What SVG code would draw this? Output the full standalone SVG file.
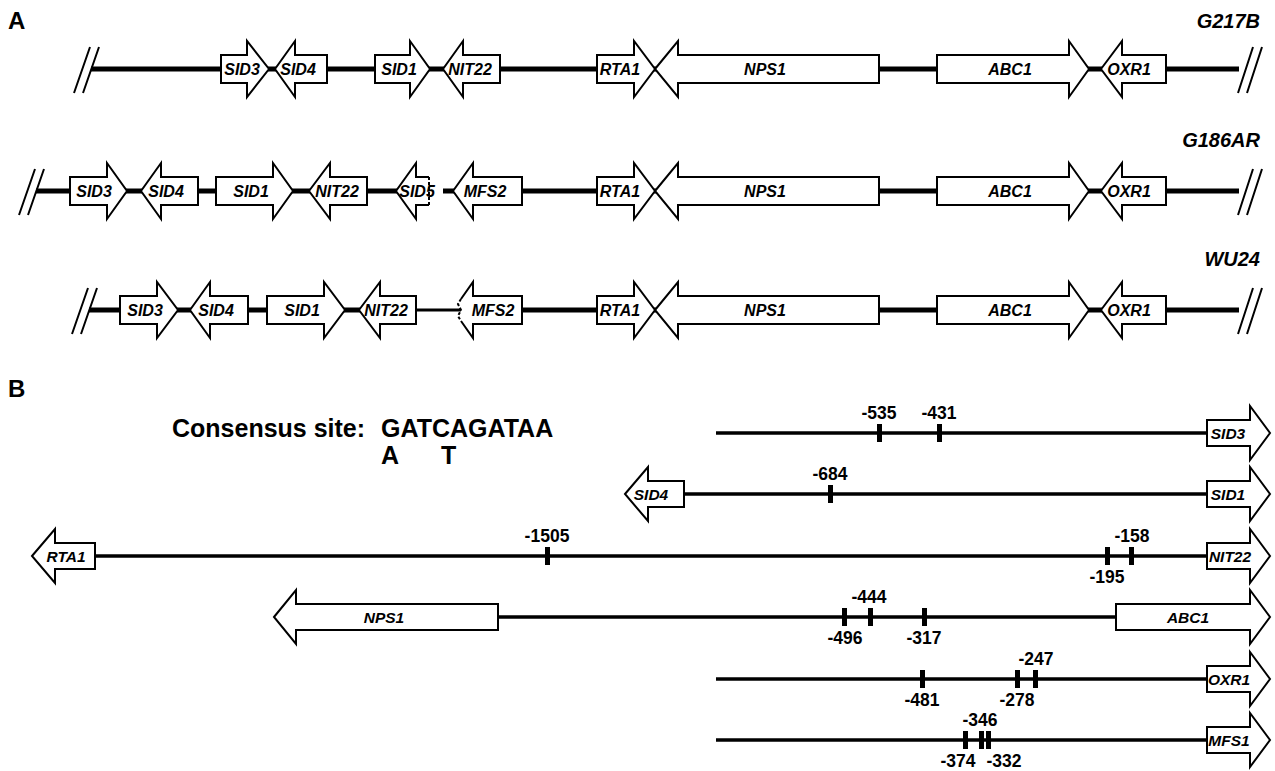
<svg xmlns="http://www.w3.org/2000/svg" width="1275" height="771" viewBox="0 0 1275 771">
<style>
.gene{fill:#fff;stroke:#000;stroke-width:2;stroke-linejoin:miter}
.ga{font-family:"Liberation Sans",Arial,sans-serif;font-weight:bold;font-style:italic;font-size:16px;text-anchor:middle}
.gb{font-family:"Liberation Sans",Arial,sans-serif;font-weight:bold;font-style:italic;font-size:15.5px;text-anchor:middle}
.bb{stroke:#000;stroke-width:5;fill:none}
.bt{stroke:#000;stroke-width:3;fill:none}
.bl{stroke:#000;stroke-width:3.5;fill:none}
.br{stroke:#000;stroke-width:2;fill:none}
.dash{stroke:#000;stroke-width:2;fill:none;stroke-dasharray:3,2}
.tick{fill:#000}
.num{font-family:"Liberation Sans",Arial,sans-serif;font-weight:bold;font-size:17.5px;text-anchor:middle}
.strain{font-family:"Liberation Sans",Arial,sans-serif;font-weight:bold;font-style:italic;font-size:20px;text-anchor:end}
.panel{font-family:"Liberation Sans",Arial,sans-serif;font-weight:bold;font-size:24px}
.cons{font-family:"Liberation Sans",Arial,sans-serif;font-weight:bold;font-size:25px}
</style>

<text class="panel" x="8" y="29">A</text>
<text class="panel" x="8" y="397">B</text>

<g id="connectors">
  <line class="bb" x1="91" y1="69" x2="1239" y2="69"/>
  <line class="bb" x1="36" y1="191" x2="429" y2="191"/>
  <line class="bb" x1="443" y1="191" x2="1239" y2="191"/>
  <line class="bb" x1="89" y1="310" x2="417" y2="310"/>
  <line class="bt" x1="417" y1="310" x2="462" y2="310"/>
  <line class="bb" x1="470" y1="310" x2="1239" y2="310"/>
  <path class="br" d="M74,93 L90,47 M83,93 L99,47"/>
  <path class="br" d="M1238,93 L1253,47 M1247,93 L1262,47"/>
  <path class="br" d="M19,215 L35,169 M28,215 L44,169"/>
  <path class="br" d="M1238,215 L1253,169 M1247,215 L1262,169"/>
  <path class="br" d="M72,334 L88,288 M81,334 L97,288"/>
  <path class="br" d="M1238,334 L1253,288 M1247,334 L1262,288"/>
  <line class="bl" x1="716" y1="433" x2="1208" y2="433"/>
  <line class="bl" x1="684" y1="494" x2="1208" y2="494"/>
  <line class="bl" x1="95" y1="556" x2="1208" y2="556"/>
  <line class="bl" x1="498" y1="617" x2="1117" y2="617"/>
  <line class="bl" x1="716" y1="679" x2="1208" y2="679"/>
  <line class="bl" x1="716" y1="740" x2="1208" y2="740"/>
</g>

<text class="strain" x="1260" y="28">G217B</text>
<g id="a1-SID3"><polygon class="gene" points="221,55 247,55 247,41 269,69 247,97 247,83 221,83"/><text class="ga" x="242" y="75">SID3</text></g>
<g id="a1-SID4"><polygon class="gene" points="275,69 295,41 295,55 327,55 327,83 295,83 295,97"/><text class="ga" x="298" y="75">SID4</text></g>
<g id="a1-SID1"><polygon class="gene" points="375,55 410,55 410,41 430,69 410,97 410,83 375,83"/><text class="ga" x="399" y="75">SID1</text></g>
<g id="a1-NIT22"><polygon class="gene" points="443,69 463,41 463,55 500,55 500,83 463,83 463,97"/><text class="ga" x="470" y="75">NIT22</text></g>
<g id="a1-RTA1"><polygon class="gene" points="597,55 634,55 634,41 655,69 634,97 634,83 597,83"/><text class="ga" x="620" y="75">RTA1</text></g>
<g id="a1-NPS1"><polygon class="gene" points="655,69 678,41 678,55 879,55 879,83 678,83 678,97"/><text class="ga" x="765" y="75">NPS1</text></g>
<g id="a1-ABC1"><polygon class="gene" points="937,55 1069,55 1069,41 1089,69 1069,97 1069,83 937,83"/><text class="ga" x="1010" y="75">ABC1</text></g>
<g id="a1-OXR1"><polygon class="gene" points="1101,69 1122,41 1122,55 1166,55 1166,83 1122,83 1122,97"/><text class="ga" x="1129" y="75">OXR1</text></g>

<text class="strain" x="1260" y="147">G186AR</text>
<g id="a2-SID3"><polygon class="gene" points="70,177 107,177 107,163 127,191 107,219 107,205 70,205"/><text class="ga" x="94" y="197">SID3</text></g>
<g id="a2-SID4"><polygon class="gene" points="141,191 161,163 161,177 198,177 198,205 161,205 161,219"/><text class="ga" x="166" y="197">SID4</text></g>
<g id="a2-SID1"><polygon class="gene" points="216,177 273,177 273,163 293,191 273,219 273,205 216,205"/><text class="ga" x="251" y="197">SID1</text></g>
<g id="a2-NIT22"><polygon class="gene" points="309,191 330,163 330,177 367,177 367,205 330,205 330,219"/><text class="ga" x="337" y="197">NIT22</text></g>
<g id="a2-SID5"><polygon points="396,191 416,163 416,177 429,177 429,205 416,205 416,219" fill="#fff"/><polyline class="gene" fill="none" points="429,177 416,177 416,163 396,191 416,219 416,205 429,205"/><line class="dash" x1="429" y1="177" x2="429" y2="205"/><text class="ga" x="417" y="197">SID5</text></g>
<g id="a2-MFS2"><polygon class="gene" points="453,191 473,163 473,177 522,177 522,205 473,205 473,219"/><text class="ga" x="485" y="197">MFS2</text></g>
<g id="a2-RTA1"><polygon class="gene" points="597,177 634,177 634,163 655,191 634,219 634,205 597,205"/><text class="ga" x="620" y="197">RTA1</text></g>
<g id="a2-NPS1"><polygon class="gene" points="655,191 678,163 678,177 879,177 879,205 678,205 678,219"/><text class="ga" x="765" y="197">NPS1</text></g>
<g id="a2-ABC1"><polygon class="gene" points="937,177 1069,177 1069,163 1089,191 1069,219 1069,205 937,205"/><text class="ga" x="1010" y="197">ABC1</text></g>
<g id="a2-OXR1"><polygon class="gene" points="1101,191 1122,163 1122,177 1166,177 1166,205 1122,205 1122,219"/><text class="ga" x="1129" y="197">OXR1</text></g>

<text class="strain" x="1260" y="266">WU24</text>
<g id="a3-SID3"><polygon class="gene" points="120,296 157,296 157,282 178,310 157,338 157,324 120,324"/><text class="ga" x="145" y="316">SID3</text></g>
<g id="a3-SID4"><polygon class="gene" points="190,310 210,282 210,296 248,296 248,324 210,324 210,338"/><text class="ga" x="216" y="316">SID4</text></g>
<g id="a3-SID1"><polygon class="gene" points="267,296 324,296 324,282 345,310 324,338 324,324 267,324"/><text class="ga" x="302" y="316">SID1</text></g>
<g id="a3-NIT22"><polygon class="gene" points="359,310 380,282 380,296 416,296 416,324 380,324 380,338"/><text class="ga" x="386" y="316">NIT22</text></g>
<g id="a3-MFS2"><polygon points="461,299 473,282 473,296 522,296 522,324 473,324 473,338 461,321" fill="#fff"/><polyline class="gene" fill="none" points="461,299 473,282 473,296 522,296 522,324 473,324 473,338 461,321"/><path class="dash" d="M461,299 L458,304 L461,310 L458,316 L461,321"/><text class="ga" x="493" y="316">MFS2</text></g>
<g id="a3-RTA1"><polygon class="gene" points="597,296 634,296 634,282 655,310 634,338 634,324 597,324"/><text class="ga" x="620" y="316">RTA1</text></g>
<g id="a3-NPS1"><polygon class="gene" points="655,310 678,282 678,296 879,296 879,324 678,324 678,338"/><text class="ga" x="765" y="316">NPS1</text></g>
<g id="a3-ABC1"><polygon class="gene" points="937,296 1069,296 1069,282 1089,310 1069,338 1069,324 937,324"/><text class="ga" x="1010" y="316">ABC1</text></g>
<g id="a3-OXR1"><polygon class="gene" points="1101,310 1122,282 1122,296 1166,296 1166,324 1122,324 1122,338"/><text class="ga" x="1129" y="316">OXR1</text></g>

<g id="consensus">
  <text class="cons" x="172" y="437">Consensus site:</text>
  <text class="cons" x="381" y="437">GATCAGATAA</text>
  <text class="cons" x="381" y="464">A</text>
  <text class="cons" x="441" y="464">T</text>
</g>

<g id="b1-SID3"><polygon class="gene" points="1207,420 1250,420 1250,406 1270,433 1250,460 1250,446 1207,446"/><text class="gb" x="1228" y="438.5">SID3</text></g>
<g id="b2-SID4"><polygon class="gene" points="625,494 648,467 648,481 684,481 684,507 648,507 648,521"/><text class="gb" x="651" y="499.5">SID4</text></g>
<g id="b2-SID1"><polygon class="gene" points="1207,481 1250,481 1250,467 1270,494 1250,521 1250,507 1207,507"/><text class="gb" x="1228" y="499.5">SID1</text></g>
<g id="b3-RTA1"><polygon class="gene" points="32,556 55,529 55,543 95,543 95,569 55,569 55,583"/><text class="gb" x="66" y="561.5">RTA1</text></g>
<g id="b3-NIT22"><polygon class="gene" points="1207,543 1250,543 1250,529 1270,556 1250,583 1250,569 1207,569"/><text class="gb" x="1230" y="561.5">NIT22</text></g>
<g id="b4-NPS1"><polygon class="gene" points="274,617 296,590 296,604 498,604 498,630 296,630 296,644"/><text class="gb" x="384" y="622.5">NPS1</text></g>
<g id="b4-ABC1"><polygon class="gene" points="1116,604 1250,604 1250,590 1270,617 1250,644 1250,630 1116,630"/><text class="gb" x="1188" y="622.5">ABC1</text></g>
<g id="b5-OXR1"><polygon class="gene" points="1207,666 1250,666 1250,652 1270,679 1250,706 1250,692 1207,692"/><text class="gb" x="1229" y="684.5">OXR1</text></g>
<g id="b6-MFS1"><polygon class="gene" points="1207,727 1250,727 1250,713 1270,740 1250,767 1250,753 1207,753"/><text class="gb" x="1229" y="745.5">MFS1</text></g>

<g id="sites">
  <rect class="tick" x="877" y="424" width="5" height="18"/><text class="num" x="879" y="419">-535</text>
  <rect class="tick" x="937" y="424" width="5" height="18"/><text class="num" x="939" y="419">-431</text>
  <rect class="tick" x="828" y="485" width="5" height="18"/><text class="num" x="830" y="480">-684</text>
  <rect class="tick" x="545" y="547" width="5" height="18"/><text class="num" x="547" y="542">-1505</text>
  <rect class="tick" x="1105" y="547" width="5" height="18"/><text class="num" x="1107" y="583">-195</text>
  <rect class="tick" x="1129" y="547" width="5" height="18"/><text class="num" x="1132" y="542">-158</text>
  <rect class="tick" x="842" y="608" width="5" height="18"/><text class="num" x="845" y="644">-496</text>
  <rect class="tick" x="868" y="608" width="5" height="18"/><text class="num" x="869" y="603">-444</text>
  <rect class="tick" x="922" y="608" width="5" height="18"/><text class="num" x="924" y="644">-317</text>
  <rect class="tick" x="920" y="670" width="5" height="18"/><text class="num" x="922" y="706">-481</text>
  <rect class="tick" x="1015" y="670" width="5" height="18"/><text class="num" x="1017" y="706">-278</text>
  <rect class="tick" x="1033" y="670" width="5" height="18"/><text class="num" x="1036" y="665">-247</text>
  <rect class="tick" x="963" y="731" width="5" height="18"/><text class="num" x="958" y="767">-374</text>
  <rect class="tick" x="979" y="731" width="5" height="18"/><text class="num" x="980" y="726">-346</text>
  <rect class="tick" x="986" y="731" width="5" height="18"/><text class="num" x="1004" y="767">-332</text>
</g>
</svg>
